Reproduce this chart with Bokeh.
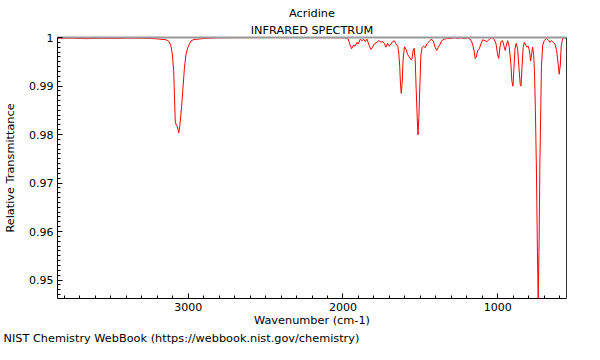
import math
from bokeh.plotting import figure
from bokeh.models import (Range1d, FixedTicker, ColumnDataSource, Title, LinearAxis,
                          CustomJSTickFormatter)
from bokeh.embed import file_html
from bokeh.resources import INLINE

# ---- data ----
wavenumber = [
    3845, 3758, 3661, 3564, 3467, 3370, 3273, 3209, 3176, 3144,
    3125, 3112, 3102, 3094, 3089, 3084, 3078, 3070, 3061, 3054,
    3044, 3034, 3025, 3015, 3004, 2992, 2982, 2963, 2937, 2898,
    2808, 2659, 2465, 2271, 2078, 1981, 1968, 1953, 1944, 1931,
    1922, 1909, 1901, 1888, 1877, 1866, 1856, 1845, 1830, 1819,
    1808, 1798, 1780, 1769, 1754, 1743, 1733, 1722, 1711, 1701,
    1690, 1679, 1668, 1657, 1646, 1639, 1633, 1628, 1623, 1617,
    1611, 1602, 1591, 1582, 1571, 1560, 1554, 1546, 1540, 1533,
    1527, 1520, 1515, 1509, 1502, 1496, 1488, 1478, 1468, 1457,
    1442, 1428, 1416, 1404, 1394, 1384, 1372, 1362, 1345, 1323,
    1302, 1281, 1259, 1237, 1216, 1194, 1177, 1162, 1151, 1145,
    1138, 1129, 1119, 1108, 1097, 1082, 1069, 1054, 1039, 1026,
    1011, 1000, 993, 985, 979, 968, 957, 951, 942, 935,
    925, 914, 908, 901, 895, 888, 880, 871, 862, 854,
    849, 843, 835, 828, 817, 811, 802, 793, 787, 780,
    774, 767, 762, 756, 749, 743, 738, 732, 727, 721,
    717, 709, 699, 686, 673, 662, 651, 641, 630, 619,
    608, 602, 595, 589, 580, 565, 555,
]
transmittance = [
    .9998, .99986, .99976, .99984, .9998, .99988, .99982, .99974, .99964, .99954,
    .9992, .9983, .99639, .99298, .98797, .98275, .98195, .98165, .98034, .98195,
    .98536, .98957, .99358, .99639, .99779, .9987, .9993, .9996, .99966, .9998,
    .99994, .99996, .99998, .99996, .99996, .99992, .9998, .9984, .99769, .99846,
    .9982, .999, .99866, .99966, .99934, .99966, .99914, .99966, .99834, .99753,
    .998, .99866, .999, .99934, .99904, .99914, .9988, .998, .9988, .9982,
    .99866, .99914, .99934, .99866, .9982, .99679, .994, .99037, .98847, .99077,
    .99559, .99809, .99749, .99649, .99599, .99539, .99559, .99739, .99779, .99559,
    .98957, .98355, .97994, .98355, .99097, .99639, .99799, .9982, .99789, .9987,
    .9992, .9997, .9992, .998, .99733, .998, .9986, .99934, .99966, .9998,
    .9998, .99996, .9998, .99994, .9998, .99996, .99966, .99866, .99699, .99565,
    .99599, .99733, .99765, .99866, .99954, .99934, .99914, .99966, .99996, .9998,
    .9988, .99639, .99569, .998, .99914, .99934, .998, .99733, .99866, .99934,
    .998, .99432, .99097, .98997, .99364, .99765, .9988, .99765, .99364, .99031,
    .98997, .99364, .998, .999, .99834, .998, .9982, .99699, .99513, .99665,
    .998, .99633, .99298, .98496, .97192, .95588, .946, .95788, .97393, .98596,
    .99398, .9984, .99934, .9998, .99954, .999, .99934, .999, .99866, .99733,
    .99432, .99244, .99432, .99834, .9998, .99994, .9998,
]

x_major_ticks = [1000, 2000, 3000]
x_minor_ticks = list(range(600, 3900, 100))
y_major_ticks = [0.95, 0.96, 0.97, 0.98, 0.99, 1.0]
y_minor_ticks = [round(0.947 + 0.001 * i, 3) for i in range(53)]

compound = "Acridine"
subtitle = "INFRARED SPECTRUM"
x_title = "Wavenumber (cm-1)"
y_title = "Relative Transmittance"
footer = "NIST Chemistry WebBook (https://webbook.nist.gov/chemistry)"

FONT = "DejaVu Sans"
FS = "11.3px"

src = ColumnDataSource(dict(wn=wavenumber, t=transmittance))

p = figure(width=584, height=344,
           x_range=Range1d(3845, 555), y_range=Range1d(0.9462, 1.0),
           output_backend="svg", toolbar_location=None,
           min_border_left=57, min_border_right=18,
           min_border_top=37, min_border_bottom=44)
p.background_fill_color = "white"
p.border_fill_color = "white"
p.xgrid.visible = False
p.ygrid.visible = False
p.outline_line_color = None

p.line(x="wn", y="t", source=src, line_color="#ff0000", line_width=1)

for ax in (p.xaxis[0], p.yaxis[0]):
    ax.axis_line_color = "black"
    ax.major_tick_line_color = "black"
    ax.minor_tick_line_color = "black"
    ax.major_tick_in = 5
    ax.major_tick_out = 0
    ax.minor_tick_in = 3
    ax.minor_tick_out = 0
    ax.major_label_text_font = FONT
    ax.major_label_text_font_size = "11px"
    ax.major_label_text_color = "black"
    ax.axis_label_text_font = FONT
    ax.axis_label_text_font_size = FS
    ax.axis_label_text_font_style = "normal"
    ax.axis_label_text_color = "black"

p.xaxis[0].ticker = FixedTicker(ticks=x_major_ticks, minor_ticks=x_minor_ticks)
p.yaxis[0].ticker = FixedTicker(ticks=y_major_ticks, minor_ticks=y_minor_ticks)
p.yaxis[0].formatter = CustomJSTickFormatter(code="return String(Number(tick.toFixed(2)))")
p.xaxis[0].major_label_standoff = 4
p.yaxis[0].major_label_standoff = 4
p.xaxis[0].axis_label = x_title
p.xaxis[0].axis_label_standoff = 0
p.yaxis[0].axis_label = y_title
p.yaxis[0].axis_label_standoff = 9

# frame edges: grey top, dark right
top_ax = LinearAxis(ticker=FixedTicker(ticks=[], minor_ticks=[]),
                    axis_line_color="#999999", axis_line_width=2,
                    major_tick_out=0, minor_tick_out=0, major_tick_in=0, minor_tick_in=0)
right_ax = LinearAxis(ticker=FixedTicker(ticks=[], minor_ticks=[]),
                      axis_line_color="#333333", axis_line_width=1,
                      major_tick_out=0, minor_tick_out=0, major_tick_in=0, minor_tick_in=0)
p.add_layout(top_ax, "above")
p.add_layout(right_ax, "right")

p.add_layout(Title(text=subtitle, align="center", text_font=FONT, text_font_size=FS,
                   text_font_style="normal", text_color="black", standoff=2), "above")
p.add_layout(Title(text=compound, align="center", text_font=FONT, text_font_size=FS,
                   text_font_style="normal", text_color="black", standoff=2), "above")
p.add_layout(Title(text=footer, align="left", offset=-54, text_font=FONT, text_font_size=FS,
                   text_font_style="normal", text_color="black", standoff=0), "below")

open("out.html", "w").write(file_html(p, INLINE))
